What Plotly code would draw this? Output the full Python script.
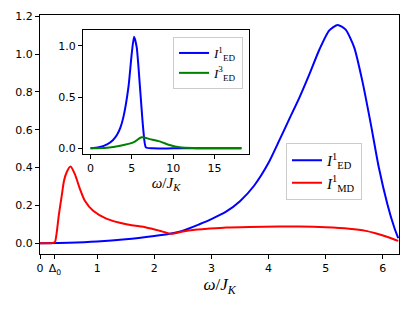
import plotly.graph_objects as go

# ---- main panel data ----
w_ed1 = [0.0, 0.5, 1.0, 1.5, 2.0, 2.27, 2.5, 2.79, 3.0, 3.25, 3.5, 3.75, 4.0, 4.19, 4.36,
         4.54, 4.71, 4.89, 5.06, 5.21, 5.35, 5.50, 5.64, 5.79, 5.93, 6.08, 6.20, 6.27]
i_ed1 = [0.0, 0.002, 0.008, 0.02, 0.038, 0.05, 0.066, 0.10, 0.127, 0.165, 0.222, 0.305, 0.425, 0.545, 0.655,
         0.77, 0.89, 1.025, 1.125, 1.155, 1.13, 1.035, 0.86, 0.63, 0.40, 0.206, 0.083, 0.026]

w_md1 = [0.0, 0.2, 0.26, 0.29, 0.33, 0.38, 0.42, 0.465, 0.535, 0.61, 0.70, 0.785, 0.93, 1.16, 1.51, 1.86, 2.09,
         2.29, 2.5, 2.68, 2.97, 3.26, 3.66, 4.19, 4.54, 5.0, 5.41, 5.70, 5.87, 6.11, 6.27]
i_md1 = [0.0, 0.0, 0.005, 0.05, 0.15, 0.25, 0.33, 0.374, 0.405, 0.365, 0.286, 0.224, 0.171, 0.13, 0.10, 0.083,
         0.066, 0.050, 0.062, 0.070, 0.077, 0.083, 0.086, 0.088, 0.088, 0.084, 0.076, 0.065, 0.052, 0.030, 0.012]

# ---- inset data ----
w_in = [0.0, 1.0, 2.0, 2.7, 3.19, 3.6, 3.99, 4.59, 4.98, 5.26, 5.58, 5.98, 6.38, 6.7, 7.5, 10.0, 14.0, 18.26]
in_ed1 = [0.0, 0.01, 0.04, 0.08, 0.13, 0.2, 0.31, 0.60, 0.92, 1.09, 0.99, 0.60, 0.185, 0.01, 0.0, 0.0, 0.0, 0.0]
w_in3 = [0.0, 2.0, 3.59, 5.18, 6.18, 7.18, 8.37, 9.57, 10.77, 12.7, 15.0, 18.26]
in_ed3 = [0.0, 0.006, 0.025, 0.058, 0.108, 0.09, 0.068, 0.032, 0.01, 0.002, 0.0, 0.0]

main_xticks = [0, 0.26, 1, 2, 3, 4, 5, 6]
main_xticktext = ["0", "Δ<sub>0</sub>", "1", "2", "3", "4", "5", "6"]
main_yticks = [0.0, 0.2, 0.4, 0.6, 0.8, 1.0, 1.2]
inset_xticks = [0, 5, 10, 15]
inset_yticks = [0.0, 0.5, 1.0]

lab_ed1 = "<i>I</i><sup>1</sup><sub>ED</sub>"
lab_md1 = "<i>I</i><sup>1</sup><sub>MD</sub>"
lab_ed3 = "<i>I</i><sup>3</sup><sub>ED</sub>"

fig = go.Figure()
fig.add_trace(go.Scatter(x=w_ed1, y=i_ed1, mode="lines", name=lab_ed1,
                         line=dict(color="#0000ff", width=2, shape="spline", smoothing=0.6),
                         xaxis="x", yaxis="y", legend="legend"))
fig.add_trace(go.Scatter(x=w_md1, y=i_md1, mode="lines", name=lab_md1,
                         line=dict(color="#ff0000", width=2, shape="spline", smoothing=0.6),
                         xaxis="x", yaxis="y", legend="legend"))
fig.add_trace(go.Scatter(x=w_in, y=in_ed1, mode="lines", name=lab_ed1,
                         line=dict(color="#0000ff", width=2, shape="spline", smoothing=0.6),
                         xaxis="x2", yaxis="y2", legend="legend2"))
fig.add_trace(go.Scatter(x=w_in3, y=in_ed3, mode="lines", name=lab_ed3,
                         line=dict(color="#008000", width=2, shape="spline", smoothing=0.8),
                         xaxis="x2", yaxis="y2", legend="legend2"))

# the page body adds an 8px offset, so the figure is 8px smaller than the window
OFF = 8
W, H = 415 - OFF, 311 - OFF
L, R, T, B = 40 - OFF, 16, 15 - OFF, 57
pw, ph = W - L - R, H - T - B

def px(x):
    return (x - OFF - L) / pw

def py(y):
    return (H - B - (y - OFF)) / ph

tickfont = dict(family="DejaVu Sans", size=11, color="black")
axis_common = dict(showgrid=False, zeroline=False, showline=True, linecolor="black", linewidth=1,
                   ticks="outside", ticklen=4, tickcolor="black", tickfont=tickfont, automargin=False)

fig.update_layout(
    width=W, height=H,
    margin=dict(l=L, r=R, t=T, b=B, autoexpand=False),
    paper_bgcolor="white", plot_bgcolor="white",
    xaxis=dict(axis_common, range=[0, 6.283], tickvals=main_xticks, ticktext=main_xticktext,
               mirror=True, domain=[0, 1],
               title=dict(text="<i>ω</i>/<i>J</i><sub><i>K</i></sub>",
                          font=dict(family="Liberation Serif", size=17, color="black"), standoff=2)),
    yaxis=dict(axis_common, range=[-0.0575, 1.2075], tickvals=main_yticks, tickformat=".1f",
               mirror=True, domain=[0, 1]),
    xaxis2=dict(axis_common, range=[-0.91, 19.17], tickvals=inset_xticks, mirror=True,
                domain=[px(83), px(249)], anchor="y2",
                title=dict(text="<i>ω</i>/<i>J</i><sub><i>K</i></sub>",
                           font=dict(family="Liberation Serif", size=15, color="black"), standoff=2)),
    yaxis2=dict(axis_common, range=[-0.055, 1.155], tickvals=inset_yticks, tickformat=".1f",
                mirror=True, domain=[py(154), py(30)], anchor="x2"),
    legend=dict(x=px(286), y=py(143), xanchor="left", yanchor="top",
                bgcolor="rgba(255,255,255,0.8)", bordercolor="#cccccc", borderwidth=1,
                font=dict(family="Liberation Serif", size=15, color="black"),
                tracegroupgap=0, itemwidth=30),
    legend2=dict(x=px(173), y=py(37), xanchor="left", yanchor="top",
                 bgcolor="rgba(255,255,255,0.8)", bordercolor="#cccccc", borderwidth=1,
                 font=dict(family="Liberation Serif", size=13, color="black"),
                 tracegroupgap=0, itemwidth=30),
    showlegend=True,
)

fig.write_html("out.html")
